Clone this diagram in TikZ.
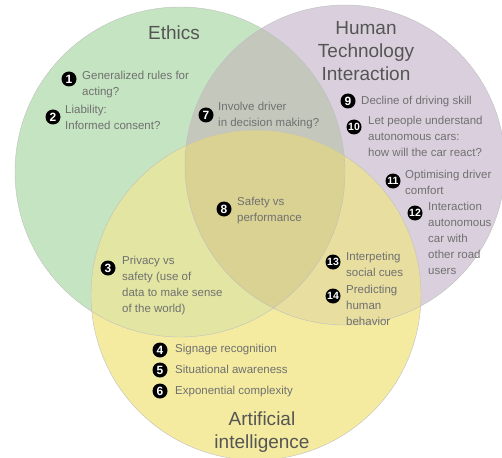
\documentclass[tikz,border=0pt]{standalone}
\usepackage{fontspec}
\setmainfont{Liberation Sans}
\definecolor{cG}{RGB}{197,228,193}
\definecolor{cP}{RGB}{218,208,221}
\definecolor{cY}{RGB}{244,235,160}
\definecolor{cGP}{RGB}{196,199,188}
\definecolor{cGY}{RGB}{226,230,162}
\definecolor{cPY}{RGB}{232,222,160}
\definecolor{cGPY}{RGB}{218,210,146}
\definecolor{txtgray}{RGB}{112,112,112}
\definecolor{titlegray}{RGB}{85,85,85}
\tikzset{
  badge/.style={circle, fill=black, text=white, inner sep=0pt, minimum size=15pt, font=\fontsize{12}{12}\selectfont\bfseries},
  badgetwo/.style={badge, font=\fontsize{10.5}{10.5}\selectfont\bfseries},
  txt/.style={anchor=north west, inner sep=0pt, align=left, text=txtgray, font=\fontsize{11.5}{16}\selectfont},
  ttl/.style={inner sep=0pt, align=center, text=titlegray, font=\fontsize{19}{23}\selectfont},
  rim/.style={draw=black!25, line width=0.4pt}
}
\begin{document}
\begin{tikzpicture}[x=1pt,y=-1pt]
\useasboundingbox (0,0) rectangle (502,457);
\clip (0,0) rectangle (502,457);
\def\Gc{(180,172) circle (165)}
\def\Pc{(345,165) circle (160)}
\def\Yc{(256,295) circle (165)}
\fill[cG] \Gc;
\fill[cP] \Pc;
\fill[cY] \Yc;
\begin{scope}\clip \Gc; \fill[cGP] \Pc; \end{scope}
\begin{scope}\clip \Gc; \fill[cGY] \Yc; \end{scope}
\begin{scope}\clip \Pc; \fill[cPY] \Yc; \end{scope}
\begin{scope}\clip \Gc; \clip \Pc; \fill[cGPY] \Yc; \end{scope}
\draw[rim] \Gc; \draw[rim] \Pc; \draw[rim] \Yc;

\node[ttl] (ethics) at (174,33) {Ethics};
\node[ttl] (hti) at (366,51) {Human\\Technology\\Interaction};
\node[ttl] (ai) at (262,432) {Artificial\\intelligence};

\node[badge] (b1) at (69,79) {1};
\node[txt] (t1) at (82,71) {Generalized rules for\\acting?};
\node[badge] (b2) at (53,117) {2};
\node[txt] (t2) at (65,105) {Liability:\\Informed consent?};
\node[badge] (b7) at (206,115) {7};
\node[txt] (t7) at (218,102) {Involve driver\\in decision making?};
\node[badge] (b9) at (348,101) {9};
\node[txt] (t9) at (361,96) {Decline of driving skill};
\node[badgetwo] (b10) at (354,127) {10};
\node[txt] (t10) at (368,116) {Let people understand\\autonomous cars:\\how will the car react?};
\node[badgetwo] (b11) at (393,181) {11};
\node[txt] (t11) at (405,170) {Optimising driver\\comfort};
\node[badgetwo] (b12) at (415,213) {12};
\node[txt] (t12) at (428,202) {Interaction\\autonomous\\car with\\other road\\users};
\node[badge] (b8) at (224,209) {8};
\node[txt] (t8) at (237,197) {Safety vs\\performance};
\node[badgetwo] (b13) at (333,262) {13};
\node[txt] (t13) at (346,252) {Interpeting\\social cues};
\node[badgetwo] (b14) at (333,296) {14};
\node[txt] (t14) at (346,285) {Predicting\\human\\behavior};
\node[badge] (b3) at (108,268) {3};
\node[txt] (t3) at (122,256) {Privacy vs\\safety (use of\\data to make sense\\of the world)};
\node[badge] (b4) at (160,350) {4};
\node[txt] (t4) at (175,344) {Signage recognition};
\node[badge] (b5) at (160,370) {5};
\node[txt] (t5) at (175,365) {Situational awareness};
\node[badge] (b6) at (160,391) {6};
\node[txt] (t6) at (175,386) {Exponential complexity};
\end{tikzpicture}
\end{document}
